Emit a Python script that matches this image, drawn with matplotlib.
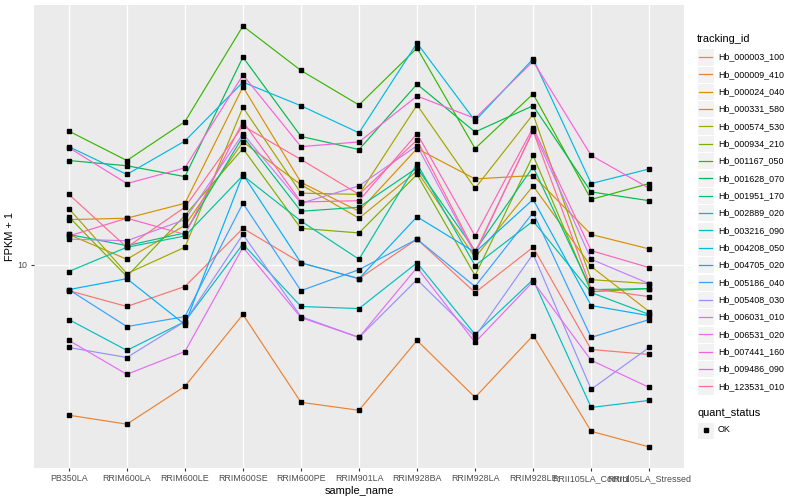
import matplotlib
matplotlib.use("Agg")
import matplotlib.pyplot as plt
from matplotlib.lines import Line2D
from matplotlib.patches import Rectangle
from matplotlib.ticker import NullLocator
import numpy as np

plt.rcParams['font.family'] = ['Liberation Sans', 'DejaVu Sans']

samples = ['PB350LA', 'RRIM600LA', 'RRIM600LE', 'RRIM600SE', 'RRIM600PE', 'RRIM901LA',
           'RRIM928BA', 'RRIM928LA', 'RRIM928LE', 'RRII105LA_Control', 'RRII105LA_Stressed']

tracking_ids = ['Hb_000003_100', 'Hb_000009_410', 'Hb_000024_040', 'Hb_000331_580',
                'Hb_000574_530', 'Hb_000934_210', 'Hb_001167_050', 'Hb_001628_070',
                'Hb_001951_170', 'Hb_002889_020', 'Hb_003216_090', 'Hb_004208_050',
                'Hb_004705_020', 'Hb_005186_040', 'Hb_005408_030', 'Hb_006031_010',
                'Hb_006531_020', 'Hb_007441_160', 'Hb_009486_090', 'Hb_123531_010']

# FPKM + 1, one list per gene, in sample order
hb_000003_100 = [8.67, 7.95, 8.87, 12.2, 10.1, 9.26, 11.5, 8.58, 11.0, 6.28, 6.11]
hb_000009_410 = [4.38, 4.17, 5.13, 7.61, 4.70, 4.50, 6.60, 4.83, 6.78, 4.01, 3.68]
hb_000024_040 = [12.8, 12.9, 14.0, 26.5, 15.7, 13.4, 18.9, 16.0, 16.3, 11.8, 10.9]
hb_000331_580 = [11.8, 10.3, 12.4, 19.6, 15.5, 12.9, 16.7, 10.4, 15.4, 9.9, 7.73]
hb_000574_530 = [13.6, 9.52, 11.0, 23.7, 14.8, 14.7, 24.0, 15.2, 22.8, 9.21, 9.01]
hb_000934_210 = [13.0, 9.37, 13.1, 18.9, 12.2, 11.9, 16.4, 9.42, 18.2, 8.62, 8.77]
hb_001167_050 = [20.8, 17.7, 21.9, 37.0, 29.0, 24.0, 32.8, 18.9, 25.5, 14.3, 15.6]
hb_001628_070 = [17.7, 17.2, 16.2, 31.2, 20.2, 18.8, 26.9, 20.7, 23.9, 14.9, 14.2]
hb_001951_170 = [11.8, 11.1, 11.9, 20.2, 13.4, 13.7, 17.0, 10.8, 17.1, 8.72, 8.77]
hb_002889_020 = [9.63, 11.0, 11.7, 16.3, 12.7, 10.3, 17.4, 9.95, 12.7, 8.58, 7.61]
hb_003216_090 = [7.40, 6.25, 7.32, 11.2, 7.95, 7.86, 10.1, 6.82, 9.21, 4.57, 4.75]
hb_004208_050 = [19.1, 16.4, 19.7, 27.2, 23.9, 20.6, 33.7, 22.0, 30.9, 15.6, 16.9]
hb_004705_020 = [8.72, 9.26, 7.20, 16.4, 10.1, 9.26, 13.0, 10.7, 14.3, 7.99, 7.56]
hb_005186_040 = [8.72, 7.12, 7.52, 14.0, 8.67, 9.73, 11.5, 8.87, 13.3, 6.71, 7.40]
hb_005408_030 = [6.35, 6.01, 7.32, 11.8, 7.52, 6.71, 9.21, 6.74, 10.6, 5.05, 6.35]
hb_006031_010 = [11.5, 11.4, 12.8, 20.5, 14.0, 15.4, 19.2, 10.6, 20.9, 10.3, 9.01]
hb_006531_020 = [6.60, 5.48, 6.21, 11.0, 7.48, 6.71, 9.84, 6.53, 9.11, 5.92, 5.10]
hb_007441_160 = [19.0, 15.6, 17.0, 28.3, 19.1, 19.6, 25.2, 22.3, 30.5, 18.2, 15.2]
hb_009486_090 = [11.7, 12.9, 11.8, 21.9, 14.1, 14.2, 20.5, 11.7, 21.2, 10.8, 9.84]
hb_123531_010 = [14.7, 11.0, 13.7, 21.4, 17.8, 14.7, 19.8, 10.7, 20.8, 8.77, 8.39]

fpkm = [hb_000003_100, hb_000009_410, hb_000024_040, hb_000331_580, hb_000574_530,
        hb_000934_210, hb_001167_050, hb_001628_070, hb_001951_170, hb_002889_020,
        hb_003216_090, hb_004208_050, hb_004705_020, hb_005186_040, hb_005408_030,
        hb_006031_010, hb_006531_020, hb_007441_160, hb_009486_090, hb_123531_010]

# ggplot default hue palette, 20 levels
colors = ["#F8766D", "#EA8331", "#D89000", "#C09B00", "#A3A500", "#7CAE00", "#39B600",
          "#00BB4E", "#00BF7D", "#00C1A3", "#00BFC4", "#00BAE0", "#00B0F6", "#35A2FF",
          "#9590FF", "#C77CFF", "#E76BF3", "#FA62DB", "#FF62BC", "#FF6C91"]

W, H = 800, 500
fig = plt.figure(figsize=(8, 5), dpi=100)
fig.patch.set_facecolor('white')

# panel in pixel coords
left, right, top, bottom = 34, 684, 5, 468
ax = fig.add_axes([left / W, 1 - bottom / H, (right - left) / W, (bottom - top) / H])
ax.set_facecolor('#EBEBEB')
for s in ax.spines.values():
    s.set_visible(False)

x = np.arange(len(samples))
for vals, col in zip(fpkm, colors):
    ax.plot(x, vals, color=col, lw=0.85, zorder=2, solid_capstyle='butt')
for vals in fpkm:
    ax.plot(x, vals, ls='none', marker='s', ms=2.3, color='black', zorder=3)

ax.set_yscale('log')
allv = np.log10(np.concatenate([np.array(v) for v in fpkm]))
lo, hi = allv.min(), allv.max()
pad = 0.05 * (hi - lo)
ax.set_ylim(10 ** (lo - pad), 10 ** (hi + pad))
ax.set_xlim(-0.6, len(samples) - 0.4)

ax.set_yticks([10])
ax.set_yticklabels(['10'])
ax.yaxis.set_minor_locator(NullLocator())
ax.set_xticks(x)
ax.set_xticklabels(samples)

ax.grid(True, color='white', linewidth=0.9)
ax.set_axisbelow(True)
ax.tick_params(axis='both', which='major', length=2.5, width=0.8, color='#333333',
               labelcolor='#4D4D4D', labelsize=6.4, pad=2)

ax.set_xlabel('sample_name', fontsize=7.9, color='black', labelpad=2)
ax.set_ylabel('FPKM + 1', fontsize=7.9, color='black', labelpad=2)


def px(xp, yp):
    return xp / W, 1 - yp / H


# legend: tracking_id
fig.text(*px(697, 39), 'tracking_id', fontsize=7.9, va='center', ha='left')
step = 17.33
for i, (name, col) in enumerate(zip(tracking_ids, colors)):
    yc = 57 + i * step
    x0, y0 = px(697, yc + 8.5)
    fig.add_artist(Rectangle((x0, y0), 17 / W, 17 / H, transform=fig.transFigure,
                             facecolor='#F2F2F2', edgecolor='white', lw=0.8))
    fig.add_artist(Line2D([699 / W, 712 / W], [1 - yc / H, 1 - yc / H],
                          transform=fig.transFigure, color=col, lw=0.9))
    fig.text(*px(718, yc), name, fontsize=6.4, va='center', ha='left')

# legend: quant_status
fig.text(*px(697, 413), 'quant_status', fontsize=7.9, va='center', ha='left')
yc = 430
x0, y0 = px(697, yc + 8.5)
fig.add_artist(Rectangle((x0, y0), 17 / W, 17 / H, transform=fig.transFigure,
                         facecolor='#F2F2F2', edgecolor='white', lw=0.8))
fig.add_artist(Line2D([705.5 / W], [1 - yc / H], transform=fig.transFigure,
                      ls='none', marker='s', ms=2.3, color='black'))
fig.text(*px(718, yc), 'OK', fontsize=6.4, va='center', ha='left')

fig.savefig('out.png', dpi=100)
